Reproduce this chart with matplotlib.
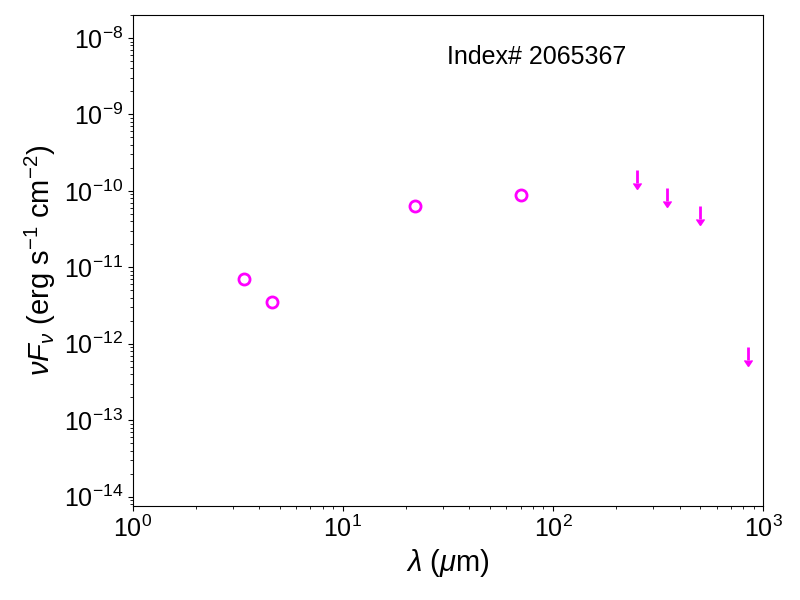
import numpy as np
import matplotlib
matplotlib.use("Agg")
from matplotlib import pyplot as plt

plt.rcParams['font.family'] = ['Liberation Sans', 'DejaVu Sans']
plt.rcParams['mathtext.fontset'] = 'custom'
plt.rcParams['mathtext.rm'] = 'Liberation Sans'
plt.rcParams['mathtext.it'] = 'Liberation Sans:italic'
plt.rcParams['mathtext.bf'] = 'Liberation Sans:bold'

# detections (micron, erg/s/cm2)
det_wave = [3.4, 4.6, 22.0, 70.0]
det_flux = [7.1e-12, 3.55e-12, 6.4e-11, 8.9e-11]

# upper limits
lim_wave = [250.0, 350.0, 500.0, 850.0]
lim_flux = [1.88e-10, 1.09e-10, 6.4e-11, 9.1e-13]

source_id = "2065367"

fig, ax = plt.subplots(figsize=(8, 6), dpi=100)

ax.plot(det_wave, det_flux, 'o', mfc='none', mec='magenta', ms=8, mew=2)

lim_flux = np.array(lim_flux)
ax.errorbar(lim_wave, lim_flux, yerr=lim_flux * 0.33, uplims=True,
            fmt='none', color='magenta', ecolor='magenta', elinewidth=2,
            capsize=0, markersize=8)

ax.set_xscale('log')
ax.set_yscale('log')
ax.set_xlim(1, 1000)
ax.set_ylim(7.6e-15, 2e-8)

ax.set_xlabel(r'$\lambda$ ($\mu$m)', fontsize=21)
ax.set_ylabel(r'$\nu F_\nu$ (erg s$^{-1}$ cm$^{-2}$)', fontsize=21)
ax.tick_params(labelsize=18)

ax.text(0.64, 0.914, 'Index# ' + source_id, transform=ax.transAxes,
        ha='center', va='center', fontsize=18)

plt.subplots_adjust(left=0.166, right=0.954, bottom=0.157, top=0.975)
plt.savefig('out.png')
